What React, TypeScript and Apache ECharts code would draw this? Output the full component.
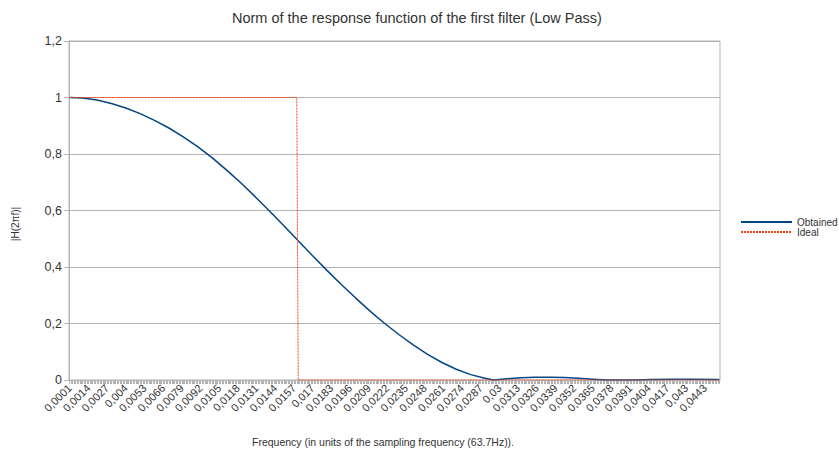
import React, { useEffect, useRef } from "react";
import * as echarts from "echarts";

// Frequency categories: 0.0001 .. 0.0453 (step 0.0001)
const FIRST_STEP = 1;
const LAST_STEP = 453;
const categories: string[] = [];
for (let k = FIRST_STEP; k <= LAST_STEP; k++) {
  categories.push((k / 10000).toFixed(4).replace(/0+$/, "").replace(".", ","));
}

// Obtained |H(2πf)| at sample frequencies
const obtainedFreq = [
  0.0001, 0.001, 0.002, 0.003, 0.004, 0.005, 0.006, 0.007, 0.008, 0.009,
  0.01, 0.011, 0.012, 0.013, 0.014, 0.015, 0.016, 0.017, 0.018, 0.019,
  0.02, 0.021, 0.022, 0.023, 0.024, 0.025, 0.026, 0.027, 0.028, 0.029,
  0.0296, 0.0305, 0.0315, 0.0325, 0.0335, 0.0345, 0.0355, 0.0365, 0.0375,
  0.0395, 0.0405, 0.042, 0.0435, 0.0453,
];
const obtainedValue = [
  1.0, 0.998, 0.991, 0.979, 0.963, 0.943, 0.919, 0.892, 0.861, 0.826,
  0.787, 0.744, 0.698, 0.649, 0.598, 0.546, 0.493, 0.44, 0.388, 0.338,
  0.29, 0.244, 0.201, 0.161, 0.124, 0.091, 0.062, 0.038, 0.019, 0.006,
  0.0, 0.004, 0.008, 0.01, 0.01, 0.009, 0.006, 0.003, 0.0,
  0.0, 0.002, 0.003, 0.003, 0.002,
];

// Ideal low-pass response
const idealFreq = [0.0001, 0.0159, 0.016, 0.0453];
const idealValue = [1, 1, 0, 0];

// Y axis ticks
const yMin = 0;
const yMax = 1.2;
const yInterval = 0.2;

function toSeries(freqs: number[], values: number[]): (number | null)[] {
  const arr: (number | null)[] = categories.map(() => null);
  freqs.forEach((f, i) => {
    const idx = Math.round(f * 10000) - FIRST_STEP;
    if (idx >= 0 && idx < arr.length) arr[idx] = values[i];
  });
  return arr;
}

const FONT = "Liberation Sans";
const GRID_COLOR = "#b3b3b3";
const TEXT_COLOR = "#333333";

export default function App() {
  const ref = useRef<HTMLDivElement>(null);
  useEffect(() => {
    if (!ref.current) return;
    const chart = echarts.init(ref.current, undefined, { renderer: "svg" });
    chart.setOption({
      animation: false,
      backgroundColor: "#ffffff",
      textStyle: { fontFamily: FONT },
      title: {
        text: "Norm of the response function of the first filter (Low Pass)",
        left: 232,
        top: 10,
        padding: 0,
        textStyle: { fontFamily: FONT, fontSize: 14.5, fontWeight: "normal", color: TEXT_COLOR },
      },
      legend: {
        orient: "vertical",
        left: 740,
        top: 217,
        padding: 0,
        itemWidth: 51,
        itemHeight: 10,
        itemGap: 0,
        itemStyle: { opacity: 0 },
        textStyle: { fontFamily: FONT, fontSize: 10, color: TEXT_COLOR, lineHeight: 10 },
        data: ["Obtained", "Ideal"],
      },
      grid: {
        left: 69,
        right: 119,
        top: 41,
        bottom: 75,
        show: true,
        borderColor: GRID_COLOR,
        borderWidth: 1,
      },
      graphic: [
        {
          type: "text",
          left: 252,
          top: 436,
          style: {
            text: "Frequency (in units of the sampling frequency (63.7Hz)).",
            fontFamily: FONT,
            fontSize: 10.5,
            fill: TEXT_COLOR,
          },
        },
        {
          type: "text",
          x: 15,
          y: 224,
          rotation: Math.PI / 2,
          style: {
            text: "|H(2πf)|",
            fontFamily: FONT,
            fontSize: 10,
            fill: TEXT_COLOR,
            align: "center",
            verticalAlign: "middle",
          },
        },
      ],
      xAxis: {
        type: "category",
        data: categories,
        boundaryGap: true,
        axisLine: { lineStyle: { color: GRID_COLOR } },
        axisTick: {
          show: true,
          interval: 0,
          length: 4,
          alignWithLabel: true,
          lineStyle: { color: GRID_COLOR },
        },
        axisLabel: {
          interval: 12,
          rotate: 45,
          margin: 6,
          fontFamily: FONT,
          fontSize: 11,
          color: TEXT_COLOR,
        },
        splitLine: { show: false },
      },
      yAxis: {
        type: "value",
        min: yMin,
        max: yMax,
        interval: yInterval,
        axisLine: { show: true, lineStyle: { color: GRID_COLOR } },
        axisTick: { show: true, length: 5, lineStyle: { color: GRID_COLOR } },
        axisLabel: {
          margin: 7,
          fontFamily: FONT,
          fontSize: 12.5,
          color: TEXT_COLOR,
          formatter: (v: number) => String(Math.round(v * 10) / 10).replace(".", ","),
        },
        splitLine: { show: true, lineStyle: { color: GRID_COLOR, width: 1 } },
      },
      series: [
        {
          name: "Obtained",
          type: "line",
          data: toSeries(obtainedFreq, obtainedValue),
          connectNulls: true,
          symbol: "none",
          smooth: false,
          lineStyle: { color: "#004586", width: 1.5 },
          itemStyle: { color: "#004586" },
        },
        {
          name: "Ideal",
          type: "line",
          data: toSeries(idealFreq, idealValue),
          connectNulls: true,
          symbol: "none",
          lineStyle: { color: "#ff420e", width: 1, type: [2, 1] },
          itemStyle: { color: "#ff420e" },
        },
      ],
    });
    return () => chart.dispose();
  }, []);
  return (
    <div
      ref={ref}
      style={{ position: "absolute", left: 0, top: 0, width: 839, height: 455 }}
    />
  );
}
